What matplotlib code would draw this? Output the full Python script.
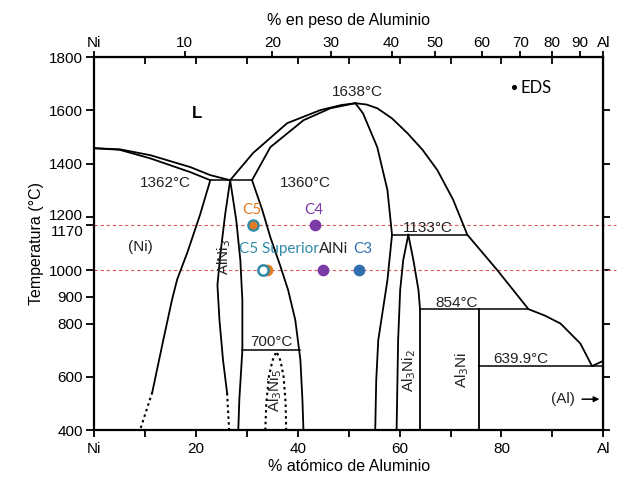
import matplotlib.pyplot as plt
from matplotlib.ticker import FixedLocator, NullFormatter
from matplotlib.transforms import ScaledTranslation

plt.rcParams['font.family'] = ['Liberation Sans', 'DejaVu Sans']

# ---------------------------------------------------------------- data
# phase boundaries, (at% Al, T degC)
liq_ni_x = [0, 5.0, 11.0, 18.9, 22.8, 26.7]
liq_ni_t = [1458, 1454, 1432, 1387, 1357, 1338]
sol_ni_x = [0, 5.0, 11.0, 18.9, 22.8]
sol_ni_t = [1458, 1452, 1420, 1368, 1338]

solvus_ni_x = [22.8, 20.8, 18.3, 16.3, 15.3, 13.6, 11.4]
solvus_ni_t = [1338, 1209, 1067, 966, 891, 741, 542]
solvus_ni_dot_x = [11.4, 9.0]
solvus_ni_dot_t = [542, 400]

ni3al_left_x = [26.7, 25.7, 24.8, 24.2, 24.6, 25.3, 26.1]
ni3al_left_t = [1338, 1207, 1064, 944, 813, 663, 539]
ni3al_left_dot_x = [26.1, 26.5]
ni3al_left_dot_t = [539, 400]
ni3al_right_x = [26.7, 27.9, 28.7, 29.1, 29.1, 28.5, 28.3]
ni3al_right_t = [1338, 1188, 1038, 888, 700, 513, 400]

nial_liq_l_x = [26.7, 31.2, 37.9, 44.4, 48.5, 51.3]
nial_liq_l_t = [1338, 1440, 1552, 1601, 1620, 1627]
nial_sol_l_x = [31.0, 34.6, 41.1, 46.4, 51.3]
nial_sol_l_t = [1338, 1462, 1563, 1608, 1627]
nial_left_x = [31.0, 33.0, 34.6, 36.5, 38.1, 39.5, 40.5, 40.9, 41.1]
nial_left_t = [1338, 1227, 1124, 1019, 925, 813, 663, 513, 400]
nial_right_x = [51.3, 52.8, 55.6, 57.6, 58.5, 57.6, 56.4, 55.8, 55.4, 55.2]
nial_right_t = [1627, 1589, 1462, 1301, 1133, 963, 813, 738, 588, 400]

liq_al_x = [51.3, 53.5, 55.6, 58.5, 61.5, 64.5, 67.4, 70.5, 73.3, 79.2, 85.3, 88.5, 91.6, 95.5, 97.8, 100]
liq_al_t = [1627, 1622, 1608, 1570, 1515, 1452, 1376, 1265, 1133, 1000, 854, 830, 800, 725, 640, 660]

al3ni2_left_x = [61.7, 60.7, 60.1, 59.7, 59.4]
al3ni2_left_t = [1133, 1038, 925, 738, 400]
al3ni2_right_x = [61.7, 62.7, 63.7, 64.0, 64.0]
al3ni2_right_t = [1133, 1038, 925, 854, 400]

al3ni5_x = [33.6, 33.8, 34.3, 35.0, 35.8, 36.6, 37.2, 37.6, 37.7]
al3ni5_t = [400, 500, 600, 660, 695, 660, 600, 500, 400]

# isotherms: (x start, x end, T)
isotherms = [(22.8, 31.0, 1338), (58.5, 73.3, 1133), (29.1, 40.5, 700),
             (64.0, 85.3, 854), (75.6, 100, 640)]
al3ni_x = [75.6, 75.6]
al3ni_t = [854, 400]

# EDS measurements
eds_temps = [1170, 1000]
c5_x, c5_t = 31.2, 1170
c4_x, c4_t = 43.4, 1170
c5s_teal_x, c5s_orange_x, c5s_t = 33.2, 34.0, 1000
alni_x, alni_t = 45.0, 1000
c3_x, c3_t = 52.1, 1000

# axes ticks
yticks = [400, 600, 800, 900, 1000, 1170, 1200, 1400, 1600, 1800]
yticks_right = [400, 600, 800, 1000, 1200, 1400, 1600]
xticks = [0, 20, 40, 60, 80, 100]
xlabels = ['Ni', '20', '40', '60', '80', 'Al']
wt_pos = [0, 17.8, 35.0, 46.5, 58.4, 67.0, 76.1, 83.7, 89.9, 95.4, 100]
wt_labels = ['Ni', '10', '20', '30', '40', '50', '60', '70', '80', '90', 'Al']

ORANGE = '#e07b24'
TEAL = '#2f8aa6'
PURPLE = '#7b3aa6'
BLUE = '#2f6fae'

fig = plt.figure(figsize=(6.2, 4.8), dpi=100)
ax = fig.add_axes([0.152, 0.104, 0.821, 0.777])
ax.set_xlim(0, 100)
ax.set_ylim(400, 1800)

lw = 1.3
solid = [(liq_ni_x, liq_ni_t), (sol_ni_x, sol_ni_t), (solvus_ni_x, solvus_ni_t),
         (ni3al_left_x, ni3al_left_t), (ni3al_right_x, ni3al_right_t),
         (nial_liq_l_x, nial_liq_l_t), (nial_sol_l_x, nial_sol_l_t),
         (nial_left_x, nial_left_t), (nial_right_x, nial_right_t),
         (liq_al_x, liq_al_t), (al3ni2_left_x, al3ni2_left_t),
         (al3ni2_right_x, al3ni2_right_t), (al3ni_x, al3ni_t)]
for xs, ts in solid:
    ax.plot(xs, ts, color='black', lw=lw, solid_joinstyle='round')
for xs, ts in [(solvus_ni_dot_x, solvus_ni_dot_t), (ni3al_left_dot_x, ni3al_left_dot_t),
               (al3ni5_x, al3ni5_t)]:
    ax.plot(xs, ts, color='black', lw=1.5, ls=(0, (1.2, 1.6)))
for x0, x1, t in isotherms:
    ax.plot([x0, x1], [t, t], color='black', lw=1.1)

# labels inside the diagram
ax.text(20.2, 1590, 'L', fontsize=12, fontweight='bold', ha='center', va='center')
kw = dict(fontsize=11, ha='center', va='center', color='#222222')
ax.text(13.9, 1327, '1362°C', **kw)
ax.text(41.5, 1327, '1360°C', **kw)
ax.text(51.7, 1668, '1638°C', **kw)
ax.text(9.0, 1087, '(Ni)', **kw)
ax.text(65.6, 1160, '1133°C', **kw)
ax.text(71.1, 878, '854°C', **kw)
ax.text(34.8, 732, '700°C', **kw)
ax.text(83.9, 668, '639.9°C', **kw)
ax.text(25.5, 1048, 'AlNi$_3$', rotation=90, **kw)
ax.text(35.5, 550, 'Al$_3$Ni$_5$', rotation=90, **kw)
ax.text(61.8, 625, 'Al$_3$Ni$_2$', rotation=90, **kw)
ax.text(72.3, 625, 'Al$_3$Ni', rotation=90, **kw)
ax.text(92.0, 516, '(Al)', **kw)
ax.annotate('', xy=(99.8, 516), xytext=(95.3, 516),
            arrowprops=dict(arrowstyle='-|>', color='black', lw=1.1, mutation_scale=8))

# EDS overlay
for t in eds_temps:
    ax.axhline(t, xmin=0, xmax=1.025, color='#e05a5a', lw=0.8, ls=(0, (3, 2.5)),
               clip_on=False, zorder=1)
ovl = dict(fontsize=11, ha='center', va='center', family=['Lato', 'DejaVu Sans'])
ax.scatter([c5_x], [c5_t], s=55, color=ORANGE, edgecolors=TEAL, linewidths=1.6, zorder=5)
ax.scatter([c4_x], [c4_t], s=55, color=PURPLE, zorder=5)
ax.scatter([c5s_teal_x], [c5s_t], s=55, color='white', edgecolors=TEAL, linewidths=1.8, zorder=5)
ax.scatter([c5s_orange_x], [c5s_t], s=55, color=ORANGE, zorder=4)
ax.scatter([alni_x], [alni_t], s=55, color=PURPLE, zorder=5)
ax.scatter([c3_x], [c3_t], s=55, color=BLUE, zorder=5)
ax.text(31.0, 1228, 'C5', color=ORANGE, **ovl)
ax.text(43.2, 1228, 'C4', color=PURPLE, **ovl)
ax.text(36.2, 1078, 'C5 Superior', color=TEAL, **ovl)
ax.text(47.0, 1078, 'AlNi', color='#222222', **ovl)
ax.text(52.8, 1078, 'C3', color=BLUE, **ovl)
ax.scatter([82.4], [1688], s=7, color='black', clip_on=False)
ax.text(83.8, 1683, 'EDS', fontsize=12, ha='left', va='center', family=['Lato', 'DejaVu Sans'])

# axes, ticks
for sp in ax.spines.values():
    sp.set_linewidth(1.6)
ax.set_yticks(yticks)
ax.set_xticks(xticks, labels=xlabels)
ax.xaxis.set_minor_locator(FixedLocator(list(range(10, 100, 20))))
ax.tick_params(which='both', direction='out', length=5, width=1.3, labelsize=11, colors='black')
ax.tick_params(axis='y', length=6, pad=2)
ax.set_xlabel('% atómico de Aluminio', fontsize=11.5, labelpad=2)
ax.set_ylabel('Temperatura (°C)', fontsize=11.5, labelpad=4)

# 1200 and 1170 sit close together: nudge their labels apart
fig.canvas.draw()
for lab in ax.get_yticklabels():
    if lab.get_text() == '1200':
        lab.set_transform(lab.get_transform() + ScaledTranslation(0, 2 / 72, fig.dpi_scale_trans))
    elif lab.get_text() == '1170':
        lab.set_transform(lab.get_transform() + ScaledTranslation(0, -4 / 72, fig.dpi_scale_trans))

top = ax.secondary_xaxis('top')
top.set_xticks(wt_pos, labels=wt_labels)
top.xaxis.set_minor_locator(FixedLocator(list(range(10, 100, 10))))
top.xaxis.set_minor_formatter(NullFormatter())
top.tick_params(which='major', direction='out', length=4, width=1.3, labelsize=11, pad=1)
top.tick_params(which='minor', direction='in', length=5, width=1.3)
top.set_xlabel('% en peso de Aluminio', fontsize=11.5, labelpad=8)

right = ax.secondary_yaxis('right')
right.set_yticks(yticks_right)
right.yaxis.set_major_formatter(NullFormatter())
right.tick_params(direction='out', length=5, width=1.3)

fig.savefig('out.png', dpi=100, facecolor='white')
